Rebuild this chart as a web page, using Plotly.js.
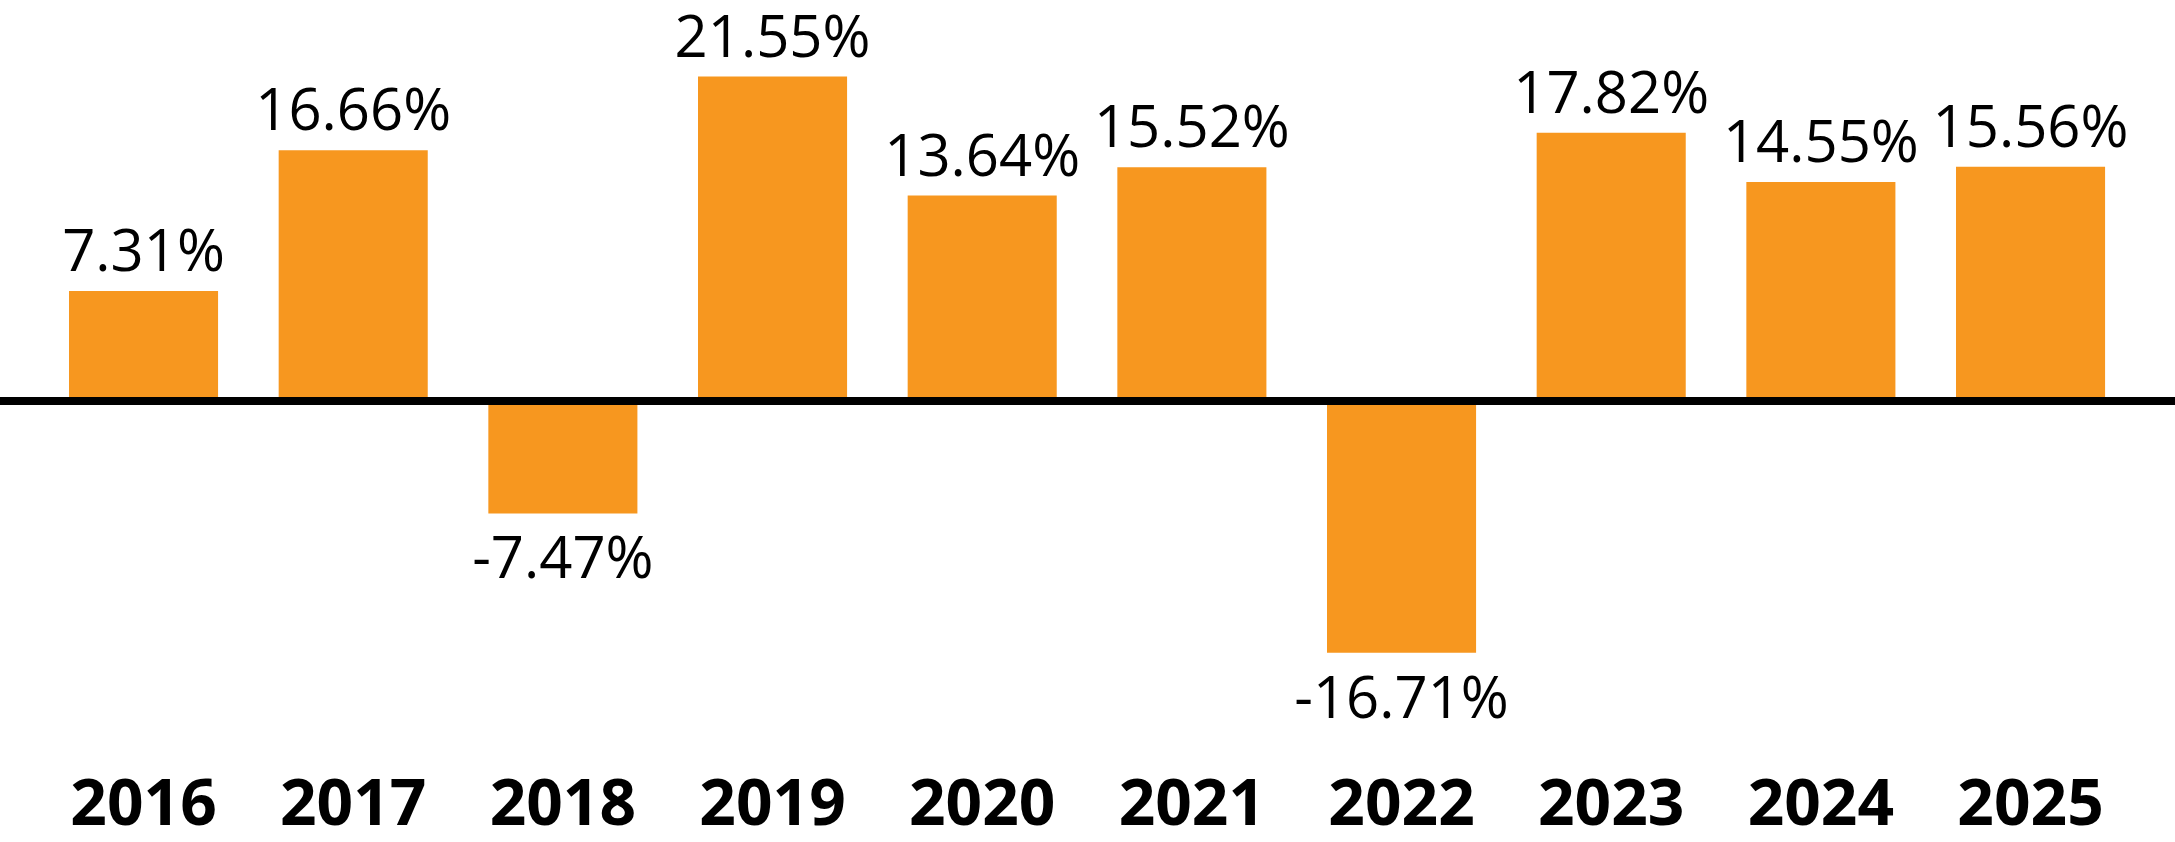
<!DOCTYPE html>
<html>
<head>
<meta charset="utf-8">
<script src="https://cdn.plot.ly/plotly-3.0.1.min.js"></script>
<style>
html,body{margin:0;padding:0;background:#fff;}
#chart{width:2175px;height:842px;}
</style>
</head>
<body>
<div id="chart"></div>
<script>
const years = ["2016","2017","2018","2019","2020","2021","2022","2023","2024","2025"];
const returns = [7.31, 16.66, -7.47, 21.55, 13.64, 15.52, -16.71, 17.82, 14.55, 15.56];
const labels = returns.map(v => v.toFixed(2) + "%");
const baselineValue = 0;

const trace = {
  type: "bar",
  x: years,
  y: returns,
  text: labels,
  textposition: "outside",
  constraintext: "none",
  cliponaxis: false,
  textfont: {family: "Open Sans, Noto Sans, sans-serif", size: 58, color: "#000"},
  marker: {color: "#F7971F"},
  hoverinfo: "none"
};

const layout = {
  width: 2175,
  height: 842,
  margin: {l: 0, r: 0, t: 0, b: 82},
  paper_bgcolor: "#fff",
  plot_bgcolor: "#fff",
  bargap: 0.289,
  showlegend: false,
  xaxis: {
    type: "category",
    range: [-0.6846, 9.689],
    showgrid: false,
    showline: false,
    zeroline: false,
    ticks: "",
    tickfont: {family: "Open Sans, Noto Sans, sans-serif", size: 64, color: "#000", weight: "bold"},
    fixedrange: true
  },
  yaxis: {
    range: [-23.84, 26.63],
    showgrid: false,
    showticklabels: false,
    zeroline: false,
    ticks: "",
    fixedrange: true
  },
  shapes: [{
    type: "line",
    layer: "above",
    xref: "paper", x0: 0, x1: 1,
    yref: "y", y0: baselineValue, y1: baselineValue,
    line: {color: "#000", width: 8}
  }]
};

Plotly.newPlot("chart", [trace], layout, {displayModeBar: false, staticPlot: true});
</script>
</body>
</html>
